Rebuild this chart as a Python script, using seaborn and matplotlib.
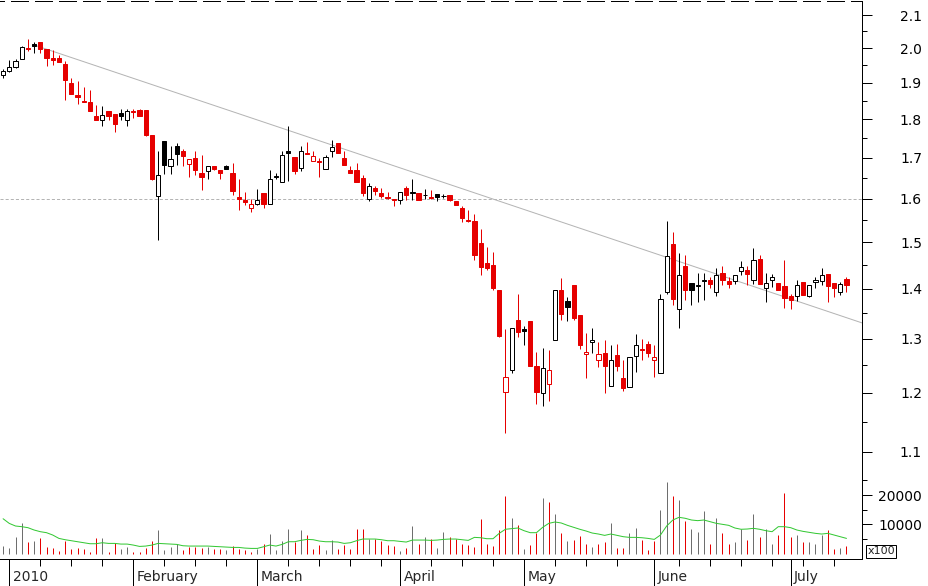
import numpy as np
import pandas as pd
import matplotlib
matplotlib.use('Agg')
import matplotlib.pyplot as plt
import seaborn as sns
from matplotlib.ticker import FixedLocator, FixedFormatter, NullFormatter

sns.set_style('white')
plt.rcParams['font.family'] = ['DejaVu Sans']
plt.rcParams['lines.scale_dashes'] = False

# trading days shown (Dec 31 2009 .. Jul 14 2010)
holidays = ['2010-01-01', '2010-04-02', '2010-04-05']
dates = pd.bdate_range('2009-12-31', '2010-07-14')
dates = dates[~dates.isin(pd.to_datetime(holidays))]

opens = [1.921, 1.933, 1.946, 1.969, 1.999, 2.011, 2.017, 1.997, 1.970, 1.970,
         1.953, 1.898, 1.866, 1.849, 1.845, 1.808, 1.797, 1.822, 1.814, 1.817,
         1.797, 1.822, 1.824, 1.825, 1.758, 1.606, 1.743, 1.680, 1.729, 1.717,
         1.685, 1.699, 1.662, 1.666, 1.680, 1.670, 1.680, 1.661, 1.604, 1.596,
         1.578, 1.587, 1.614, 1.588, 1.654, 1.640, 1.717, 1.702, 1.675, 1.712,
         1.693, 1.692, 1.673, 1.717, 1.738, 1.699, 1.670, 1.670, 1.649, 1.599,
         1.625, 1.614, 1.604, 1.600, 1.596, 1.625, 1.614, 1.614, 1.608, 1.604,
         1.612, 1.606, 1.608, 1.595, 1.578, 1.551, 1.547, 1.498, 1.455, 1.450,
         1.397, 1.201, 1.241, 1.337, 1.319, 1.335, 1.249, 1.199, 1.216, 1.297,
         1.397, 1.374, 1.408, 1.346, 1.271, 1.294, 1.259, 1.273, 1.213, 1.269,
         1.226, 1.210, 1.267, 1.281, 1.290, 1.259, 1.235, 1.394, 1.497, 1.359,
         1.448, 1.412, 1.405, 1.416, 1.418, 1.394, 1.433, 1.417, 1.416, 1.437,
         1.439, 1.419, 1.464, 1.401, 1.418, 1.412, 1.405, 1.385, 1.385, 1.414,
         1.386, 1.415, 1.417, 1.432, 1.412, 1.393, 1.420]

highs = [1.938, 1.965, 1.968, 2.006, 2.026, 2.017, 2.017, 1.997, 1.994, 1.980,
         1.962, 1.912, 1.905, 1.889, 1.879, 1.838, 1.836, 1.822, 1.814, 1.827,
         1.828, 1.827, 1.827, 1.825, 1.758, 1.717, 1.743, 1.731, 1.737, 1.722,
         1.698, 1.717, 1.707, 1.680, 1.680, 1.670, 1.682, 1.688, 1.647, 1.615,
         1.600, 1.622, 1.614, 1.670, 1.661, 1.717, 1.783, 1.702, 1.729, 1.739,
         1.717, 1.700, 1.707, 1.746, 1.738, 1.717, 1.680, 1.687, 1.657, 1.637,
         1.631, 1.625, 1.616, 1.600, 1.616, 1.631, 1.647, 1.614, 1.622, 1.621,
         1.612, 1.612, 1.608, 1.595, 1.582, 1.574, 1.563, 1.530, 1.489, 1.479,
         1.397, 1.319, 1.320, 1.389, 1.325, 1.335, 1.275, 1.283, 1.279, 1.397,
         1.423, 1.383, 1.408, 1.346, 1.312, 1.320, 1.293, 1.298, 1.288, 1.290,
         1.260, 1.266, 1.310, 1.299, 1.296, 1.288, 1.390, 1.548, 1.524, 1.477,
         1.472, 1.412, 1.433, 1.433, 1.425, 1.443, 1.447, 1.425, 1.428, 1.458,
         1.447, 1.488, 1.472, 1.433, 1.431, 1.412, 1.461, 1.389, 1.419, 1.414,
         1.408, 1.425, 1.444, 1.432, 1.412, 1.414, 1.425]

lows = [1.912, 1.930, 1.943, 1.969, 1.992, 1.986, 1.986, 1.947, 1.951, 1.959,
        1.851, 1.869, 1.841, 1.846, 1.822, 1.798, 1.781, 1.798, 1.767, 1.798,
        1.781, 1.803, 1.808, 1.755, 1.645, 1.505, 1.659, 1.659, 1.682, 1.680,
        1.652, 1.657, 1.621, 1.648, 1.670, 1.647, 1.671, 1.608, 1.573, 1.585,
        1.568, 1.584, 1.577, 1.588, 1.647, 1.640, 1.643, 1.659, 1.668, 1.710,
        1.693, 1.652, 1.673, 1.702, 1.711, 1.682, 1.662, 1.641, 1.606, 1.594,
        1.609, 1.602, 1.600, 1.582, 1.588, 1.596, 1.596, 1.596, 1.600, 1.600,
        1.595, 1.601, 1.595, 1.584, 1.546, 1.546, 1.461, 1.429, 1.439, 1.397,
        1.304, 1.130, 1.236, 1.304, 1.288, 1.248, 1.181, 1.177, 1.186, 1.297,
        1.337, 1.335, 1.336, 1.280, 1.227, 1.273, 1.246, 1.199, 1.213, 1.239,
        1.203, 1.210, 1.237, 1.260, 1.265, 1.229, 1.235, 1.390, 1.367, 1.320,
        1.376, 1.367, 1.372, 1.376, 1.401, 1.385, 1.408, 1.401, 1.409, 1.428,
        1.408, 1.410, 1.409, 1.373, 1.403, 1.397, 1.360, 1.359, 1.374, 1.387,
        1.383, 1.402, 1.408, 1.372, 1.383, 1.387, 1.394]

closes = [1.933, 1.946, 1.961, 2.002, 1.997, 2.007, 1.998, 1.971, 1.965, 1.959,
          1.907, 1.869, 1.861, 1.847, 1.822, 1.798, 1.810, 1.809, 1.786, 1.809,
          1.823, 1.820, 1.808, 1.758, 1.648, 1.657, 1.683, 1.696, 1.709, 1.704,
          1.698, 1.670, 1.652, 1.680, 1.671, 1.663, 1.671, 1.619, 1.600, 1.591,
          1.588, 1.598, 1.588, 1.647, 1.651, 1.708, 1.711, 1.668, 1.716, 1.710,
          1.704, 1.690, 1.702, 1.728, 1.711, 1.682, 1.663, 1.641, 1.614, 1.630,
          1.619, 1.607, 1.602, 1.596, 1.616, 1.608, 1.616, 1.596, 1.609, 1.602,
          1.603, 1.607, 1.596, 1.584, 1.555, 1.549, 1.471, 1.446, 1.444, 1.402,
          1.305, 1.229, 1.320, 1.313, 1.315, 1.248, 1.201, 1.245, 1.241, 1.397,
          1.349, 1.363, 1.340, 1.289, 1.275, 1.298, 1.271, 1.248, 1.259, 1.248,
          1.208, 1.266, 1.288, 1.279, 1.272, 1.265, 1.378, 1.469, 1.379, 1.428,
          1.397, 1.398, 1.407, 1.418, 1.411, 1.428, 1.418, 1.410, 1.428, 1.446,
          1.431, 1.462, 1.410, 1.412, 1.425, 1.398, 1.380, 1.376, 1.408, 1.387,
          1.408, 1.418, 1.428, 1.405, 1.401, 1.409, 1.408]

# volume in units of 100 shares
volume = [2570, 1880, 5750, 10550, 4040, 4380, 5310, 2230, 1880, 960,
          4380, 1540, 1990, 1540, 620, 5310, 5310, 620, 3480, 1640,
          2330, 620, 620, 1990, 4380, 8050, 1200, 2330, 3250, 1200,
          2330, 2330, 1990, 2330, 1540, 1540, 1200, 2570, 1540, 1200,
          620, 1540, 3250, 6680, 1200, 4380, 8390, 4040, 8050, 6340,
          1440, 2910, 1200, 4690, 1540, 2910, 1540, 8390, 8390, 4970,
          4970, 4380, 2910, 2570, 960, 1880, 9420, 3250, 5540, 4970,
          1880, 7360, 5540, 4970, 3250, 2910, 2120, 11820, 3250, 2570,
          8050, 19690, 12050, 9760, 1540, 2910, 6910, 19010, 17740, 13530,
          7140, 4380, 4620, 5990, 3250, 2330, 3250, 4040, 10550, 1780,
          1990, 7140, 8840, 4620, 1200, 4380, 14900, 24590, 19800, 18320,
          11230, 8290, 7470, 14660, 3250, 12260, 6910, 3250, 4040, 8290,
          4620, 13530, 5750, 8290, 3250, 6340, 20820, 5750, 6440, 4040,
          4040, 3250, 6230, 8050, 1440, 1990, 2570]

# volume moving average as drawn (green line)
volume_ma = [11900, 10300, 9420, 9190, 8850, 8050, 7480, 7140, 6340, 5190,
             4740, 4400, 4050, 3710, 3370, 3370, 3710, 3480, 3480, 3250,
             3250, 2910, 2450, 2570, 2910, 3480, 3370, 3250, 3140, 2680,
             2570, 2570, 2570, 2570, 2450, 2340, 2230, 2110, 2110, 1880,
             1770, 1770, 2340, 2910, 2570, 3140, 4050, 4050, 4510, 4850,
             4740, 4280, 4050, 4050, 3940, 3480, 3710, 4400, 4970, 4970,
             4970, 4740, 4400, 4400, 4170, 3940, 4620, 4620, 4620, 4510,
             4620, 4850, 4970, 4970, 4740, 4510, 5540, 5420, 5080, 5080,
             6910, 8300, 8510, 8740, 7820, 7140, 7140, 8960, 10330, 10790,
             10450, 9650, 8960, 8300, 7710, 7020, 6680, 6220, 6680, 6220,
             5770, 5540, 5540, 5420, 5190, 4850, 6340, 9420, 11470, 12390,
             12050, 11470, 11250, 11470, 10910, 10330, 9990, 9650, 8740, 8300,
             8390, 8620, 8300, 7820, 7480, 9190, 9190, 8850, 8050, 7590,
             7250, 6910, 6680, 6910, 6340, 5770, 5190]

price_ticks = [1.1, 1.2, 1.3, 1.4, 1.5, 1.6, 1.7, 1.8, 1.9, 2.0, 2.1]
price_minor = [1.15, 1.25, 1.35, 1.45, 1.55, 1.65, 1.75, 1.85, 1.95, 2.05, 2.15]
vol_ticks = [10000, 20000]
vol_minor = [5000, 15000, 25000]
trend_idx = [5, 138.5]
trend_price = [2.009, 1.331]
level_price = 1.6

RED = '#e60000'
GREY = '#6e6e6e'
PX = 0.72  # one pixel in points

df = pd.DataFrame({'open': opens, 'high': highs, 'low': lows, 'close': closes,
                   'volume': volume, 'vol_ma': volume_ma}, index=dates)
df['x'] = np.arange(len(df))
prev = df['close'].shift(1).fillna(df['close'])
rising = (df['close'] >= prev).values
up = (df['close'] >= df['open']).values
colour = np.where(rising, 'black', RED)

# month starts and weekly ticks
month_idx = [i for i in range(1, len(df)) if dates[i].month != dates[i - 1].month]
month_labels = [str(dates[i].year) if dates[i].month == 1 else dates[i].strftime('%B') for i in month_idx]
week_idx = [i for i in range(1, len(df)) if dates[i].isocalendar()[1] != dates[i - 1].isocalendar()[1]]
week_idx = [i for i in week_idx if min(abs(i - m) for m in month_idx) > 1]

W, H = 929, 586
fig = plt.figure(figsize=(W / 100, H / 100), dpi=100)
ax = fig.add_axes([0, 112.5 / H, 862 / W, 473 / H])
axv = fig.add_axes([0, 26.7 / H, 862 / W, 85.8 / H])

# price panel
ax.axhline(level_price, color='#b4b4b4', lw=PX, ls=(0, (2.2, 1.5)), zorder=1)
sns.lineplot(x=trend_idx, y=trend_price, ax=ax, color='#b4b4b4', lw=PX, zorder=1)
ax.vlines(df['x'], df['low'], df['high'], colors=colour, lw=PX, zorder=2)
body_lo = np.minimum(df['open'], df['close'])
body_h = np.maximum((df['close'] - df['open']).abs(), 0.0008)
ax.bar(df['x'], body_h, bottom=body_lo, width=0.68,
       color=np.where(up, 'white', colour), edgecolor=colour, linewidth=PX, zorder=3)

ax.set_yscale('log')
ax.set_xlim(-0.5, 138.5)
ax.set_ylim(1.0648, 2.146)
ax.yaxis.set_major_locator(FixedLocator(price_ticks))
ax.yaxis.set_major_formatter(FixedFormatter([f'{t:.1f}' for t in price_ticks]))
ax.yaxis.set_minor_locator(FixedLocator(price_minor))
ax.yaxis.set_minor_formatter(NullFormatter())
ax.set_xticks([])
ax.set_xlabel('')
ax.set_ylabel('')

# volume panel
axv.vlines(df['x'], 0, df['volume'], colors=np.where(rising, GREY, RED), lw=PX, zorder=2)
sns.lineplot(x=df['x'], y=df['vol_ma'], ax=axv, color='#33c833', lw=PX, zorder=3)
axv.set_xlim(-0.5, 138.5)
axv.set_ylim(-1950, 27350)
axv.yaxis.set_major_locator(FixedLocator(vol_ticks))
axv.yaxis.set_major_formatter(FixedFormatter([str(t) for t in vol_ticks]))
axv.yaxis.set_minor_locator(FixedLocator(vol_minor))
axv.yaxis.set_minor_formatter(NullFormatter())
axv.xaxis.set_major_locator(FixedLocator(month_idx))
axv.xaxis.set_major_formatter(NullFormatter())
axv.xaxis.set_minor_locator(FixedLocator(week_idx))
axv.set_xlabel('')
axv.set_ylabel('')

for a in (ax, axv):
    a.tick_params(axis='y', which='both', left=False, right=True, labelleft=False,
                  labelright=True, direction='out', width=PX, colors='black')
    a.tick_params(axis='y', which='major', length=10 * PX, pad=50 * PX, labelsize=10)
    a.tick_params(axis='y', which='minor', length=5 * PX)
    for lab in a.get_yticklabels():
        lab.set_ha('right')
    a.spines['left'].set_visible(False)
    a.spines['right'].set_linewidth(PX)
    a.spines['bottom'].set_linewidth(PX)
    a.spines['right'].set_color('black')
    a.spines['bottom'].set_color('black')

ax.spines['top'].set_linewidth(PX)
ax.spines['top'].set_color('black')
ax.spines['top'].set_linestyle((13 * PX, (17 * PX, 7 * PX)))
axv.spines['top'].set_visible(False)

axv.tick_params(axis='x', which='major', bottom=True, length=27 * PX, width=PX, direction='out', colors='black')
axv.tick_params(axis='x', which='minor', bottom=True, length=7 * PX, width=PX, direction='out', colors='black')

for i, lab in zip(month_idx, month_labels):
    axv.annotate(lab, xy=(i, 0), xycoords=('data', 'axes fraction'), xytext=(3.5, -22),
                 textcoords='offset pixels', ha='left', va='baseline', fontsize=10)

fig.text(881 / W, 1 - 551.5 / H, 'x100', ha='center', va='center', fontsize=8,
         bbox=dict(boxstyle='square,pad=0.12', fc='white', ec='black', lw=PX))

fig.savefig('out.png', dpi=100, facecolor='white')
